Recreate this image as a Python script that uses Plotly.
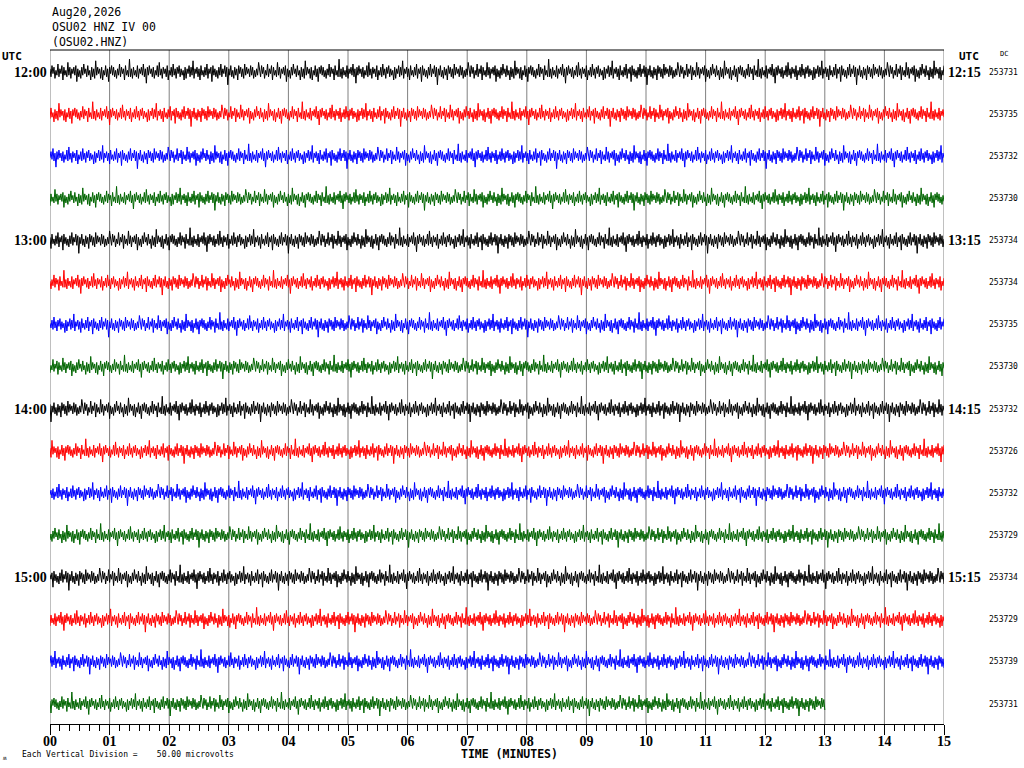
import plotly.graph_objects as go

# ---------------- data ----------------
STATION_DATE = "Aug20,2026"
STATION_LINE = "OSU02 HNZ IV 00"
STATION_ID = "(OSU02.HNZ)"

MINUTE_TICKS = list(range(16))
MINUTE_LABELS = [f"{m:02d}" for m in MINUTE_TICKS]

ROW_COLORS = ["#000000", "#ff0000", "#0000ff", "#006400"] * 4
LEFT_TIMES = {0: "12:00", 4: "13:00", 8: "14:00", 12: "15:00"}
RIGHT_TIMES = {0: "12:15", 4: "13:15", 8: "14:15", 12: "15:15"}
DC_VALUES = ["253731", "253735", "253732", "253730",
             "253734", "253734", "253735", "253730",
             "253732", "253726", "253732", "253729",
             "253734", "253729", "253739", "253731"]
ROW_LENGTH_MIN = [15] * 15 + [13]       # last line stops at minute 13
ROW_OFFSETS = [0, 37, 91, 13, 150, 66, 120, 5, 178, 44, 101, 29, 160, 83, 139, 58]
ROW_GAIN = [1.6, 1.55, 1.55, 1.5, 1.6, 1.55, 1.55, 1.5,
            1.6, 1.55, 1.55, 1.5, 1.6, 1.55, 1.55, 1.5]

# hand-typed ground-noise pattern (counts)
NOISE = [
 2,-3,4,-1,3,-4,1,-2,5,-3,2,-1,4,-5,3,-2,1,-3,6,-2,
 3,-4,2,-1,3,-2,4,-6,2,-3,1,-4,3,-2,5,-1,2,-3,4,-2,
 1,-5,3,-3,2,-4,7,-2,3,-1,2,-4,3,-5,1,-2,4,-3,2,-6,
 3,-1,4,-2,3,-3,1,-4,2,-2,5,-3,3,-1,2,-5,4,-2,1,-3,
 8,-3,2,-4,3,-2,1,-3,4,-4,2,-1,3,-2,5,-3,2,-7,3,-2,
 4,-1,2,-3,3,-4,1,-2,4,-3,6,-2,2,-4,3,-1,2,-3,4,-5,
 1,-2,3,-3,5,-2,2,-4,3,-1,4,-3,2,-2,1,-5,3,-4,2,-1,
 4,-3,3,-2,7,-4,2,-1,3,-3,2,-5,4,-2,1,-3,3,-2,5,-4,
 2,-1,3,-6,4,-2,2,-3,1,-4,3,-2,5,-3,2,-1,4,-3,3,-8,
 2,-2,4,-3,1,-4,3,-2,2,-5,4,-1,3,-3,2,-4,5,-2,3,-1,
 2,-3,4,-2,3,-4,1,-3,2,-2,6]
SAMPLES_PER_MIN = 60
COUNTS_PER_DIVISION = 42.13   # one line spacing in counts

# ---------------- figure ----------------
fig = go.Figure()
N = len(NOISE)
for r in range(16):
    n = ROW_LENGTH_MIN[r] * SAMPLES_PER_MIN
    xs = [i / SAMPLES_PER_MIN for i in range(n + 1)]
    ys = [r - ROW_GAIN[r] * NOISE[(i + ROW_OFFSETS[r]) % N] / COUNTS_PER_DIVISION
          for i in range(n + 1)]
    fig.add_trace(go.Scatter(x=xs, y=ys, mode="lines",
                             line=dict(color=ROW_COLORS[r], width=1),
                             hoverinfo="skip", showlegend=False))

W, H = 1024, 768
ML, MR, MT, MB = 50, 80, 50, 44
PW, PH = W - ML - MR, H - MT - MB

def px(xp):
    return (xp - ML) / PW

def py(yp):
    return 1 - (yp - MT) / PH

shapes = []
for m in MINUTE_TICKS:
    shapes.append(dict(type="line", xref="x", yref="paper", x0=m, x1=m, y0=0, y1=1,
                       line=dict(color="#808080", width=1), layer="below"))
shapes.append(dict(type="line", xref="paper", yref="paper", x0=0, x1=1, y0=1, y1=1,
                   line=dict(color="#000000", width=1)))

mono = "DejaVu Sans Mono"
serif = "Liberation Serif"
ann = []
for i, t in enumerate([STATION_DATE, STATION_LINE, STATION_ID]):
    ann.append(dict(text=t, xref="paper", yref="paper", x=0, y=py(12 + 15 * i),
                    xanchor="left", yanchor="middle", showarrow=False,
                    font=dict(family=mono, size=11.5, color="black")))
ann.append(dict(text="<b>UTC</b>", xref="paper", yref="paper", x=px(0), y=py(57),
                xanchor="left", yanchor="middle", showarrow=False,
                font=dict(family=mono, size=11, color="black")))
ann.append(dict(text="<b>UTC</b>", xref="paper", yref="paper", x=px(969), y=py(57),
                xanchor="center", yanchor="middle", showarrow=False,
                font=dict(family=mono, size=11, color="black")))
ann.append(dict(text="DC", xref="paper", yref="paper", x=px(1004), y=py(54),
                xanchor="center", yanchor="middle", showarrow=False,
                font=dict(family=mono, size=7, color="black")))
for r, t in LEFT_TIMES.items():
    ann.append(dict(text=f"<b>{t}</b>", xref="paper", yref="y", x=px(49), y=r,
                    xanchor="right", yanchor="middle", showarrow=False,
                    font=dict(family=serif, size=14, color="black")))
for r, t in RIGHT_TIMES.items():
    ann.append(dict(text=f"<b>{t}</b>", xref="paper", yref="y", x=px(946), y=r,
                    xanchor="left", yanchor="middle", showarrow=False,
                    font=dict(family=serif, size=14, color="black")))
for r, v in enumerate(DC_VALUES):
    ann.append(dict(text=v, xref="paper", yref="y", x=px(1004), y=r,
                    xanchor="center", yanchor="middle", showarrow=False,
                    font=dict(family=mono, size=8, color="black")))
ann.append(dict(text="<b>TIME (MINUTES)</b>", xref="paper", yref="paper",
                x=px(509), y=py(754), xanchor="center", yanchor="middle",
                showarrow=False, font=dict(family=mono, size=11.5, color="black")))
ann.append(dict(text="Each Vertical Division =    50.00 microvolts", xref="paper",
                yref="paper", x=px(20), y=py(754), xanchor="left", yanchor="middle",
                showarrow=False, font=dict(family=mono, size=8, color="black")))
ann.append(dict(text="ʍ", xref="paper", yref="paper", x=px(5), y=py(757),
                xanchor="center", yanchor="middle", showarrow=False,
                font=dict(family=mono, size=6, color="black")))

fig.update_layout(
    width=W, height=H,
    margin=dict(l=ML, r=MR, t=MT, b=MB, pad=0),
    paper_bgcolor="white", plot_bgcolor="white",
    shapes=shapes, annotations=ann,
    xaxis=dict(range=[0, 15], showgrid=False, zeroline=False,
               showline=True, linecolor="black", linewidth=1,
               ticks="outside", ticklen=10, tickcolor="black", tickwidth=1,
               tickvals=MINUTE_TICKS, ticktext=[f"<b>{s}</b>" for s in MINUTE_LABELS],
               tickfont=dict(family=serif, size=14, color="black"),
               ticklabelstandoff=-6,
               minor=dict(dtick=1 / 6, ticks="outside", ticklen=6,
                          tickcolor="black", tickwidth=1, showgrid=False),
               fixedrange=True),
    yaxis=dict(range=[15 + 20 / 42.13, -22 / 42.13], visible=False,
               showgrid=False, zeroline=False, fixedrange=True),
)

fig.write_html("out.html", config={"displayModeBar": False},
               post_script="document.body.style.margin='0px';"
                           "document.body.style.overflow='hidden';")
